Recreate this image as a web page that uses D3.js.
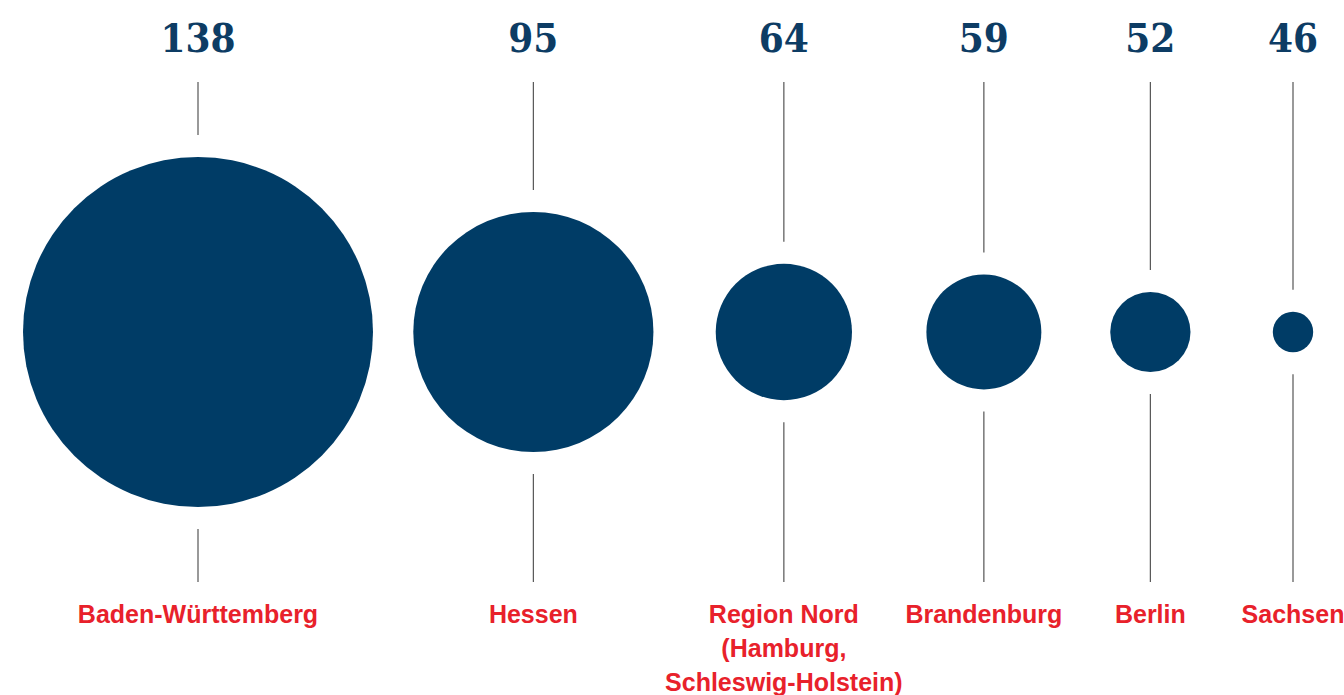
<!DOCTYPE html>
<html><head><meta charset="utf-8">
<script src="https://cdn.jsdelivr.net/npm/d3@7"></script>
<style>
html,body{margin:0;padding:0;background:#fff;}
svg{display:block;}
.num{font-family:"DejaVu Serif Condensed","DejaVu Serif",serif;font-stretch:condensed;font-weight:bold;font-size:40px;fill:#0d3c64;font-feature-settings:"onum" 1;font-variant-numeric:oldstyle-nums;}
.lab{font-family:"Liberation Sans",Arial,sans-serif;font-weight:bold;font-size:25px;fill:#e8212b;}
</style></head>
<body>
<svg id="chart" width="1344" height="695"></svg>
<script>
const categories = ["Baden-Württemberg", "Hessen", "Region Nord\n(Hamburg,\nSchleswig-Holstein)", "Brandenburg", "Berlin", "Sachsen"];
const values = [138, 95, 64, 59, 52, 46];
const valueLabels = ["138", "95", "64", "59", "52", "46"];

const W = 1344, H = 695, cy = 332;
const svg = d3.select("#chart");

// horizontal spacing shrinks to the right
const x = d3.scaleLog().domain([2.5, 7.5]).range([198, 1293]);
// circle size grows with the amount above a baseline value
const base = 43;
const r = d3.scalePow().exponent(0.625).domain([0, 138 - base]).range([0, 175]);

const data = categories.map((c, i) => ({c, v: values[i], t: valueLabels[i], cx: x(i + 2.5), rr: r(values[i] - base)}));
const gap = 22, lineTop = 82, lineBot = 582;

const g = svg.selectAll("g.item").data(data).join("g").attr("class", "item");

g.append("line")
  .attr("x1", d => d.cx).attr("x2", d => d.cx)
  .attr("y1", lineTop).attr("y2", d => cy - d.rr - gap)
  .attr("stroke", "#555").attr("stroke-width", 1.2);
g.append("line")
  .attr("x1", d => d.cx).attr("x2", d => d.cx)
  .attr("y1", d => cy + d.rr + gap).attr("y2", lineBot)
  .attr("stroke", "#555").attr("stroke-width", 1.2);

g.append("circle")
  .attr("cx", d => d.cx).attr("cy", cy).attr("r", d => d.rr)
  .attr("fill", "#003c66");

g.append("text").attr("class", "num")
  .attr("x", d => d.cx).attr("y", 52).attr("text-anchor", "middle")
  .text(d => d.t);

g.append("text").attr("class", "lab")
  .attr("text-anchor", "middle")
  .selectAll("tspan").data(d => d.c.split("\n").map((s, j) => ({s, j, cx: d.cx})))
  .join("tspan")
  .attr("x", d => d.cx).attr("y", d => 623 + d.j * 34)
  .text(d => d.s);
</script>
</body></html>
